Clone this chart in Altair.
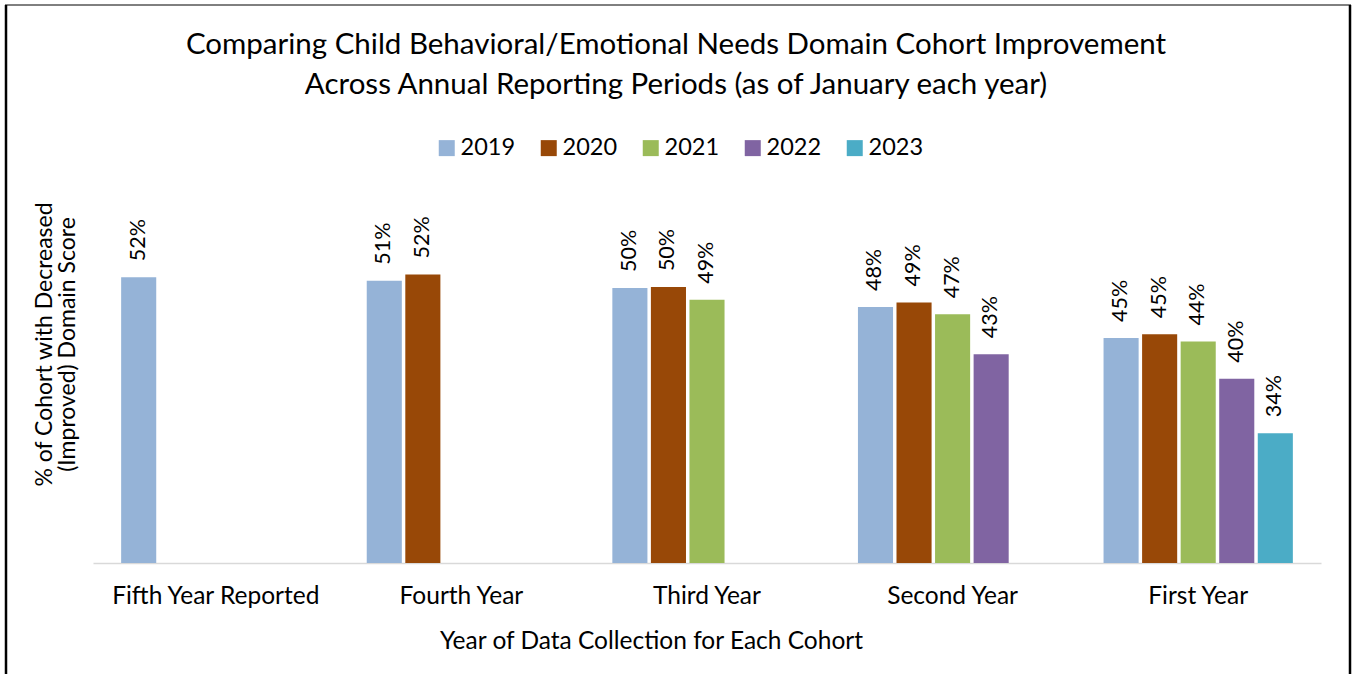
import altair as alt
import pandas as pd

cohorts = ["Fifth Year Reported", "Fourth Year", "Third Year", "Second Year", "First Year"]
years = ["2019", "2020", "2021", "2022", "2023"]
colors = ["#95B3D7", "#984807", "#9BBB59", "#8064A2", "#4BACC6"]

fifth = [0.515]
fourth = [0.511, 0.518]
third = [0.503, 0.504, 0.490]
second = [0.482, 0.487, 0.474, 0.430]
first = [0.448, 0.452, 0.444, 0.403, 0.343]

rows = []
for cohort, vals in zip(cohorts, [fifth, fourth, third, second, first]):
    for yr, v in zip(years, vals):
        rows.append({"cohort": cohort, "year": yr, "value": v})
df = pd.DataFrame(rows)

FONT = "Lato"
W, H = 1228, 363

x_enc = alt.X("cohort:N", sort=cohorts,
              scale=alt.Scale(paddingInner=0, paddingOuter=0),
              axis=alt.Axis(title="Year of Data Collection for Each Cohort",
                            labelAngle=0, labelFontSize=24.5, labelPadding=21, labelLimit=400,
                            labelColor="#000000", labelFont=FONT,
                            ticks=False, domainColor="#D9D9D9", domainWidth=1.5,
                            titleFontSize=24.5, titleFont=FONT, titleFontWeight="normal",
                            titleColor="#000000", titleX=558, titleY=78,
                            titleAlign="center", titleBaseline="middle"))
xoff = alt.XOffset("year:N", sort=years,
                   scale=alt.Scale(domain=years, paddingInner=0.09, paddingOuter=0.73))
y_enc = alt.Y("value:Q", scale=alt.Scale(domain=[0.2, 0.6], zero=False),
              axis=alt.Axis(title=["% of Cohort with Decreased", "(Improved) Domain Score"],
                            labels=False, ticks=False, domain=False, grid=False,
                            titleFontSize=23, titleFont=FONT, titleFontWeight="normal",
                            titleColor="#000000", titleAngle=270, titleX=-49, titleY=144,
                            titleAlign="center", titleBaseline="middle", titleLineHeight=23))

base = alt.Chart(df)

bars = base.mark_bar().encode(
    x=x_enc,
    xOffset=xoff,
    y=y_enc,
    y2=alt.datum(0.2),
    color=alt.Color("year:N", sort=years,
                    scale=alt.Scale(domain=years, range=colors),
                    legend=alt.Legend(title=None, orient="none", legendX=342, legendY=-64,
                                      direction="horizontal", symbolType="square",
                                      symbolSize=256, symbolStrokeWidth=0,
                                      labelFontSize=23.5, labelFont=FONT, labelColor="#000000",
                                      labelOffset=2, columnPadding=21, padding=0)),
)

labels = base.mark_text(angle=270, align="left", baseline="middle", dx=16,
                        fontSize=21.5, font=FONT, color="#000000").encode(
    x=alt.X("cohort:N", sort=cohorts),
    xOffset=xoff,
    y=alt.Y("value:Q"),
    text=alt.Text("value:Q", format=".0%"),
)

frame_data = alt.Data(values=[{"k": 1}])
left_line = alt.Chart(frame_data).mark_rule(color="#000000", strokeWidth=2.5).encode(
    x=alt.value(-87), y=alt.value(-195), y2=alt.value(474))
right_line = alt.Chart(frame_data).mark_rule(color="#000000", strokeWidth=2.5).encode(
    x=alt.value(1257), y=alt.value(-195), y2=alt.value(474))
top_line = alt.Chart(frame_data).mark_rule(color="#000000", strokeWidth=1).encode(
    x=alt.value(-88), x2=alt.value(1258), y=alt.value(-195))

chart = alt.layer(bars, labels, left_line, right_line, top_line).properties(
    width=W, height=H,
    title=alt.TitleParams(
        ["Comparing Child Behavioral/Emotional Needs Domain Cohort Improvement",
         "Across Annual Reporting Periods (as of January each year)"],
        fontSize=29.5, font=FONT, fontWeight="normal", color="#000000",
        anchor="middle", dx=-31, lineHeight=40, offset=-97),
    autosize=alt.AutoSizeParams(type="none"),
    padding={"left": 93, "top": 200, "right": 31, "bottom": 111},
).configure_view(stroke=None, strokeWidth=0)

chart.save("out.html", embed_options={"renderer": "svg", "actions": False})
